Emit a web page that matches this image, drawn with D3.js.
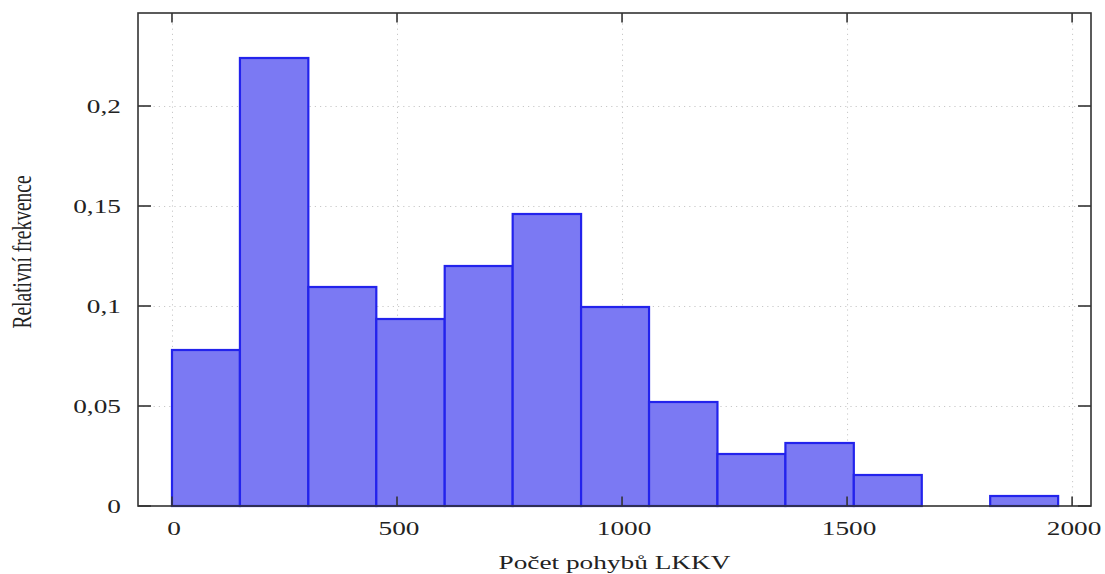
<!DOCTYPE html>
<html>
<head>
<meta charset="utf-8">
<script src="https://cdn.jsdelivr.net/npm/d3@7"></script>
<style>
  body { margin: 0; background: #fff; }
  text { font-family: "Liberation Serif", "Times New Roman", serif; fill: #222; }
</style>
</head>
<body>
<div id="chart"></div>
<script>
// histogram bins (lower/upper edges) and relative frequencies
var binEdges = [0, 151, 303, 454, 606, 757, 909, 1060, 1212, 1363, 1515, 1666, 1818, 1969];
var freqs = [0.078, 0.224, 0.1095, 0.0935, 0.12, 0.146, 0.0995, 0.052, 0.026, 0.0315, 0.0155, 0, 0.005];
var xTicks = [0, 500, 1000, 1500, 2000];
var yTicks = [0, 0.05, 0.1, 0.15, 0.2];
var xTitle = "Počet pohybů LKKV";
var yTitle = "Relativní frekvence";

(function() {
    var width = 1105, height = 574;
    var pLeft = 138, pRight = 1091, pTop = 13, pBottom = 506;
    var stretch = 1.4, fontSize = 19.5;

    var svg = d3.select("#chart").append("svg")
        .attr("width", width)
        .attr("height", height);

    var x = d3.scaleLinear().domain([-75.5, 2042]).range([pLeft, pRight]);
    var y = d3.scaleLinear().domain([0, 0.2465]).range([pBottom, pTop]);

    var loc = d3.formatLocale({decimal: ",", thousands: "", grouping: [3], currency: ["", ""]});
    var yFmt = loc.format("~g");

    var bins = freqs.map(function(f, i) {
        return {x0: binEdges[i], x1: binEdges[i + 1], f: f};
    });

    // grid
    var grid = svg.append("g")
        .attr("stroke", "#c8c8c8")
        .attr("stroke-width", 1)
        .attr("stroke-dasharray", "1.2,4");
    grid.selectAll(".gx").data(xTicks).enter().append("line")
        .attr("x1", function(d) { return x(d) + 0.5; })
        .attr("x2", function(d) { return x(d) + 0.5; })
        .attr("y1", pTop).attr("y2", pBottom);
    grid.selectAll(".gy").data(yTicks.slice(1)).enter().append("line")
        .attr("y1", function(d) { return y(d) + 0.5; })
        .attr("y2", function(d) { return y(d) + 0.5; })
        .attr("x1", pLeft).attr("x2", pRight);

    // bars
    svg.append("g").selectAll("rect")
        .data(bins.filter(function(d) { return d.f > 0; }))
        .enter().append("rect")
        .attr("x", function(d) { return x(d.x0); })
        .attr("width", function(d) { return x(d.x1) - x(d.x0); })
        .attr("y", function(d) { return y(d.f); })
        .attr("height", function(d) { return y(0) - y(d.f); })
        .attr("fill", "#7b79f3")
        .attr("stroke", "#2323ec")
        .attr("stroke-width", 2.2);

    // frame
    svg.append("rect")
        .attr("x", pLeft).attr("y", pTop)
        .attr("width", pRight - pLeft).attr("height", pBottom - pTop)
        .attr("fill", "none")
        .attr("stroke", "#333")
        .attr("stroke-width", 1.6);

    // inward ticks on all four sides
    var ticks = svg.append("g").attr("stroke", "#333").attr("stroke-width", 1.6);
    xTicks.forEach(function(d) {
        ticks.append("line").attr("x1", x(d)).attr("x2", x(d)).attr("y1", pBottom).attr("y2", pBottom - 9.5);
        ticks.append("line").attr("x1", x(d)).attr("x2", x(d)).attr("y1", pTop).attr("y2", pTop + 9.5);
    });
    yTicks.forEach(function(d) {
        ticks.append("line").attr("y1", y(d)).attr("y2", y(d)).attr("x1", pLeft).attr("x2", pLeft + 13);
        ticks.append("line").attr("y1", y(d)).attr("y2", y(d)).attr("x1", pRight).attr("x2", pRight - 13);
    });

    // text helper: the reference is stretched horizontally
    function label(tx, ty, str, anchor, rot) {
        return svg.append("text")
            .attr("transform", "translate(" + tx + "," + ty + ") scale(" + stretch + ",1)" + (rot ? " rotate(" + rot + ")" : ""))
            .attr("text-anchor", anchor)
            .attr("font-size", fontSize)
            .text(str);
    }

    xTicks.forEach(function(d) {
        label(x(d) + 2, 535, d, "middle");
    });
    yTicks.forEach(function(d) {
        label(121, y(d) + 6.5, yFmt(d), "end");
    });

    label((pLeft + pRight) / 2, 569, xTitle, "middle");
    label(31, 252, yTitle, "middle", -90);
})();
</script>
</body>
</html>
